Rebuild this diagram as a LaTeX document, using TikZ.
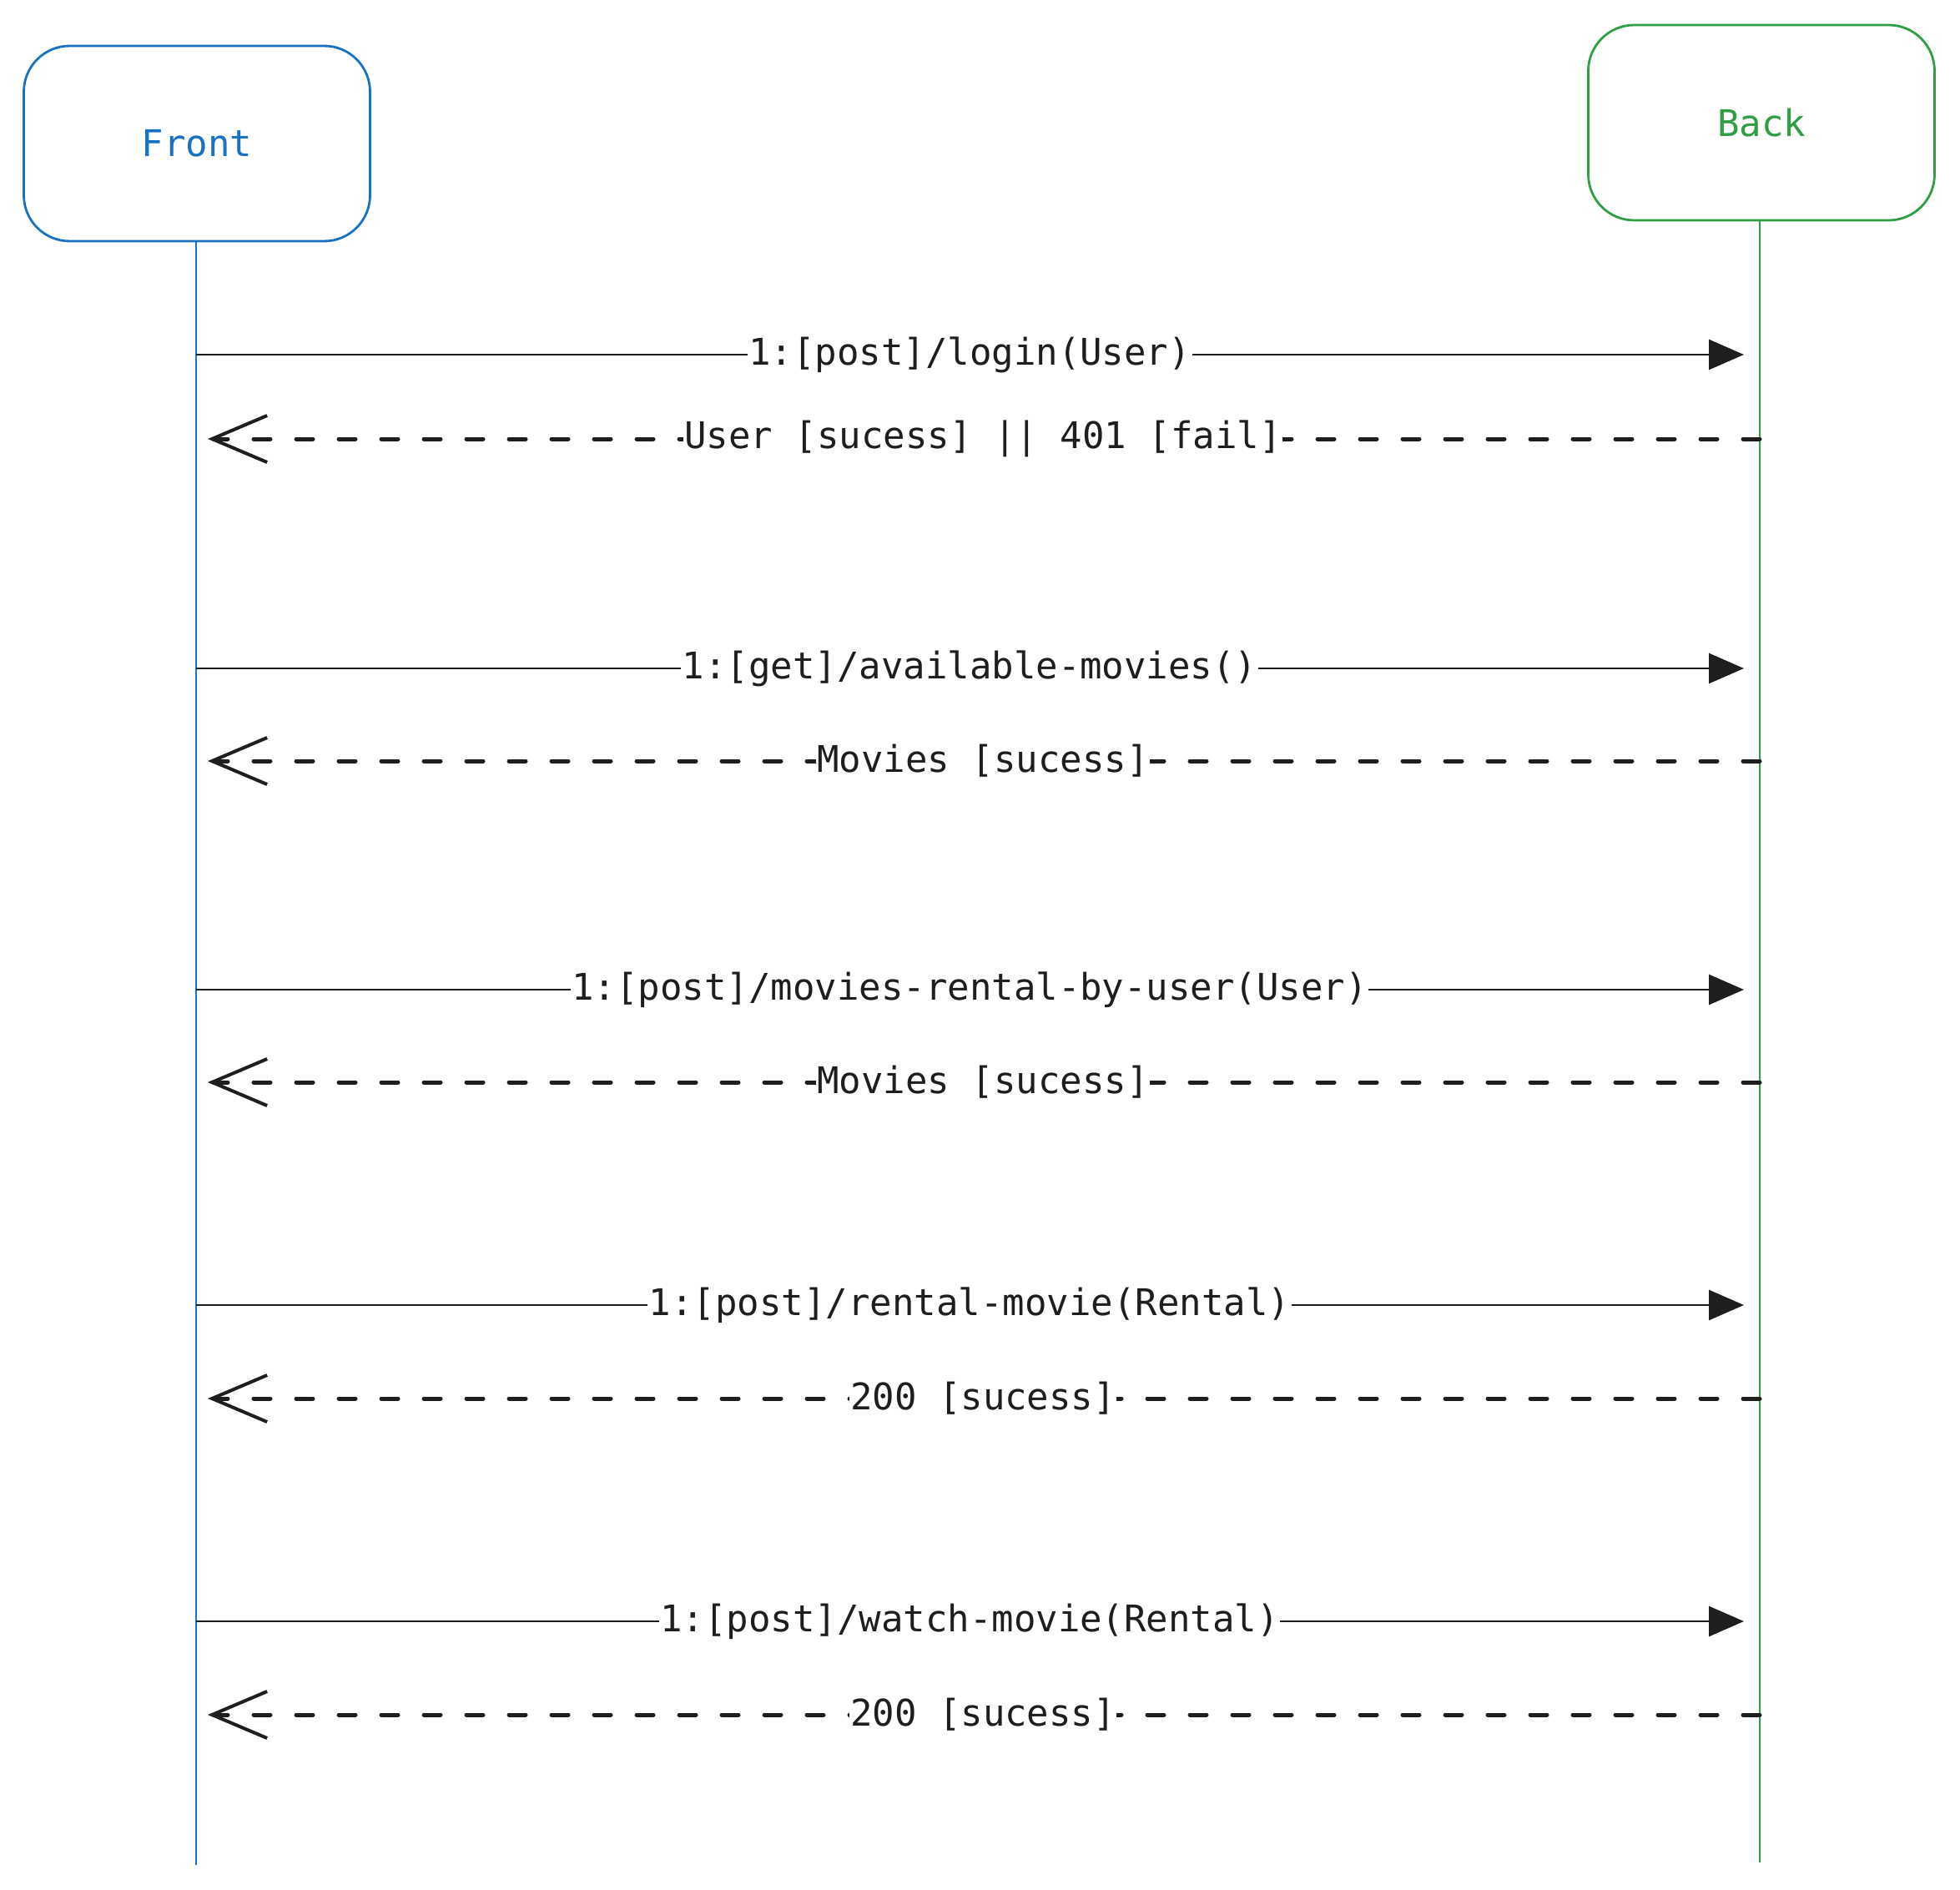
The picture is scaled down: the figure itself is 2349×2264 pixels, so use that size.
\documentclass[tikz,border=0pt]{standalone}
\usepackage{fontspec}
\setmonofont{DejaVu Sans Mono}
\usetikzlibrary{arrows.meta}
\definecolor{ink}{HTML}{1E1E1E}
\definecolor{frontblue}{HTML}{1971C2}
\definecolor{backgreen}{HTML}{2F9E44}
\tikzset{
  actor/.style={draw, rounded corners=55pt, minimum width=415pt, minimum height=234pt, line width=2.8pt, font=\fontsize{44}{50}\selectfont\ttfamily},
  lifeline/.style={line width=2.8pt},
  callmsg/.style={draw=ink, line width=2.8pt, -{Triangle[length=42pt,width=36pt]}, shorten >=19pt},
  replymsg/.style={draw=ink, line width=5pt, line cap=round, dash pattern=on 20pt off 31pt, -{Straight Barb[length=66pt,width=56pt,line width=4pt]}, shorten >=14pt},
  msglabel/.style={fill=white, inner sep=1.5pt, text=ink, font=\fontsize{44}{50}\selectfont\ttfamily}
}
\begin{document}
\begin{tikzpicture}[x=1pt,y=-1pt]
\useasboundingbox (0,0) rectangle (2349,2264);
\node[actor, draw=frontblue, text=frontblue] (front) at (236,172) {Front};
\node[actor, draw=backgreen, text=backgreen] (back) at (2111,147) {Back};
\coordinate (fend) at (235,2235);
\coordinate (bend) at (2109,2232);
\draw[lifeline, frontblue] (front.south -| fend) -- (fend);
\draw[lifeline, backgreen] (back.south -| bend) -- (bend);
% message anchors
\foreach \i/\y in {1/425,2/526,3/801,4/912,5/1186,6/1297,7/1564,8/1676,9/1943,10/2055}{
  \coordinate (f\i) at (235,\y);
  \coordinate (b\i) at (2109,\y);
}
\draw[callmsg] (f1) -- node[msglabel, pos=0.4947]{1:[post]/login(User)} (b1);
\draw[replymsg] (b2) -- node[msglabel, pos=0.4968]{User [sucess] || 401 [fail]} (f2);
\draw[callmsg] (f3) -- node[msglabel, pos=0.4947]{1:[get]/available-movies()} (b3);
\draw[replymsg] (b4) -- node[msglabel, pos=0.4968]{Movies [sucess]} (f4);
\draw[callmsg] (f5) -- node[msglabel, pos=0.4947]{1:[post]/movies-rental-by-user(User)} (b5);
\draw[replymsg] (b6) -- node[msglabel, pos=0.4968]{Movies [sucess]} (f6);
\draw[callmsg] (f7) -- node[msglabel, pos=0.4947]{1:[post]/rental-movie(Rental)} (b7);
\draw[replymsg] (b8) -- node[msglabel, pos=0.4968]{200 [sucess]} (f8);
\draw[callmsg] (f9) -- node[msglabel, pos=0.4947]{1:[post]/watch-movie(Rental)} (b9);
\draw[replymsg] (b10) -- node[msglabel, pos=0.4968]{200 [sucess]} (f10);
\end{tikzpicture}
\end{document}
